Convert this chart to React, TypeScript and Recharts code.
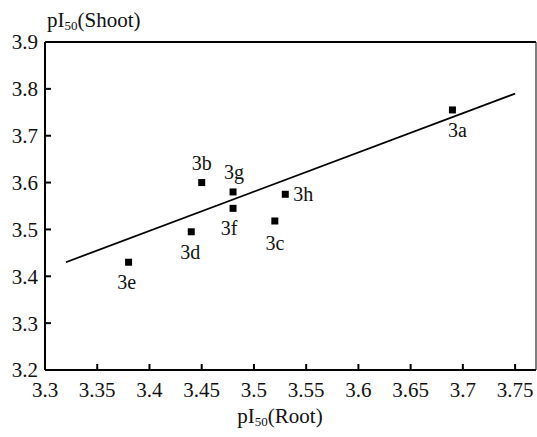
import React from 'react';
import { ScatterChart, Scatter, XAxis, YAxis, ReferenceLine } from 'recharts';

const names = ['3a', '3b', '3c', '3d', '3e', '3f', '3g', '3h'];
const rootValues = [3.69, 3.45, 3.52, 3.44, 3.38, 3.48, 3.48, 3.53];
const shootValues = [3.755, 3.6, 3.518, 3.495, 3.43, 3.545, 3.58, 3.575];

const fitRoot = [3.32, 3.75];
const fitShoot = [3.43, 3.79];

const xTicks = [3.3, 3.35, 3.4, 3.45, 3.5, 3.55, 3.6, 3.65, 3.7, 3.75];
const yTicks = [3.2, 3.3, 3.4, 3.5, 3.6, 3.7, 3.8, 3.9];
const xDomain = [3.3, 3.77];
const yDomain = [3.2, 3.9];

const labelPlacement: Record<string, { dx: number; dy: number; anchor: 'middle' | 'start' }> = {
  '3a': { dx: 5, dy: 20, anchor: 'middle' },
  '3b': { dx: 0, dy: -20, anchor: 'middle' },
  '3c': { dx: 0, dy: 22, anchor: 'middle' },
  '3d': { dx: -1, dy: 20, anchor: 'middle' },
  '3e': { dx: -2, dy: 20, anchor: 'middle' },
  '3f': { dx: -4, dy: 20, anchor: 'middle' },
  '3g': { dx: 1, dy: -20, anchor: 'middle' },
  '3h': { dx: 8, dy: 0, anchor: 'start' },
};

const points = names.map((name, i) => ({ name, root: rootValues[i], shoot: shootValues[i] }));
const fitLine = fitRoot.map((r, i) => ({ root: r, shoot: fitShoot[i] }));

const FONT = 'Liberation Serif';
const TICK_FONT = 21;
const X_MARGIN = 12;
const Y_MARGIN = 7;
const TICK_LEN = 6;

function renderXTick(props: any) {
  const { x, y, payload } = props;
  const axisY = y - X_MARGIN;
  return (
    <g key={`xt-${payload.value}`}>
      <path d={`M${x},${axisY}V${axisY - TICK_LEN}`} stroke="#000" strokeWidth={2} fill="none" />
      <text x={x} y={y} dy="0.71em" textAnchor="middle" fontFamily={FONT} fontSize={TICK_FONT} fill="#111">
        {String(payload.value)}
      </text>
    </g>
  );
}

function renderYTick(props: any) {
  const { x, y, payload } = props;
  const axisX = x + Y_MARGIN;
  return (
    <g key={`yt-${payload.value}`}>
      <path d={`M${axisX},${y}H${axisX + TICK_LEN}`} stroke="#000" strokeWidth={2} fill="none" />
      <text x={x} y={y} dy="0.355em" textAnchor="end" fontFamily={FONT} fontSize={TICK_FONT} fill="#111">
        {String(payload.value)}
      </text>
    </g>
  );
}

const PointShape = (props: any) => {
  const { cx, cy, payload } = props;
  const p = labelPlacement[payload.name] || { dx: 0, dy: 20, anchor: 'middle' };
  return (
    <g>
      <rect x={cx - 3.5} y={cy - 3.5} width={7} height={7} fill="#000" />
      <text
        x={cx + p.dx}
        y={cy + p.dy}
        textAnchor={p.anchor}
        dominantBaseline="central"
        fontFamily={FONT}
        fontSize={20}
        fill="#111"
      >
        {payload.name}
      </text>
    </g>
  );
};

const NoShape = () => <g />;

export default function App() {
  return (
    <div
      style={{
        position: 'absolute',
        left: 0,
        top: 0,
        width: 537,
        height: 437,
        background: '#fff',
        fontFamily: FONT,
      }}
    >
      <ScatterChart width={537} height={437} margin={{ top: 42, right: 1, bottom: 37, left: 5 }}>
        <XAxis
          type="number"
          dataKey="root"
          domain={xDomain}
          ticks={xTicks}
          allowDataOverflow
          height={30}
          axisLine={{ stroke: '#000', strokeWidth: 2 }}
          tickLine={false}
          tickSize={0}
          tickMargin={X_MARGIN}
          tick={renderXTick}
          interval={0}
        />
        <YAxis
          type="number"
          dataKey="shoot"
          domain={yDomain}
          ticks={yTicks}
          allowDataOverflow
          width={40}
          axisLine={{ stroke: '#000', strokeWidth: 2 }}
          tickLine={false}
          tickSize={0}
          tickMargin={Y_MARGIN}
          tick={renderYTick}
          interval={0}
        />
        <ReferenceLine y={yDomain[1]} stroke="#000" strokeWidth={2} ifOverflow="extendDomain" />
        <ReferenceLine x={xDomain[1]} stroke="#000" strokeWidth={1} ifOverflow="extendDomain" />
        <Scatter data={fitLine} line={{ stroke: '#000', strokeWidth: 1.8 }} shape={NoShape} isAnimationActive={false} />
        <Scatter data={points} shape={PointShape} isAnimationActive={false} />
      </ScatterChart>
      <div
        style={{
          position: 'absolute',
          left: 47,
          top: 10,
          fontSize: 21,
          lineHeight: '21px',
          color: '#111',
          whiteSpace: 'nowrap',
        }}
      >
        pI<span style={{ fontSize: 13, position: 'relative', top: 3 }}>50</span>(Shoot)
      </div>
      <div
        style={{
          position: 'absolute',
          left: 0,
          width: 560,
          top: 406,
          textAlign: 'center',
          fontSize: 21,
          lineHeight: '21px',
          color: '#111',
          whiteSpace: 'nowrap',
        }}
      >
        pI<span style={{ fontSize: 13, position: 'relative', top: 3 }}>50</span>(Root)
      </div>
    </div>
  );
}
